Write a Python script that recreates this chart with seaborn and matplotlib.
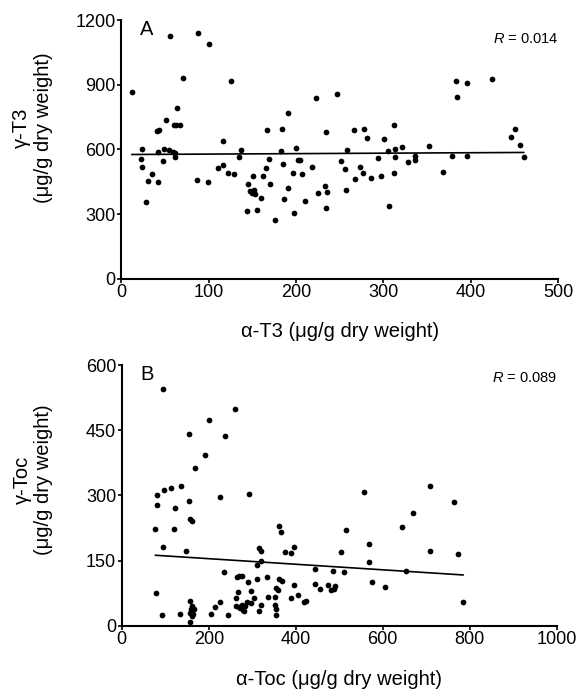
import numpy as np
import matplotlib
matplotlib.use("Agg")
import matplotlib.pyplot as plt
import seaborn as sns

# Panel A: alpha-T3 vs gamma-T3 (ug/g dry weight)
a_t3 = [12, 56, 88, 101, 71, 64, 51, 41, 43, 60, 63, 67, 24, 23, 24, 42, 49, 55, 59, 62,
        62, 48, 35, 31, 42, 28, 87, 99, 116, 111, 116, 122,
        126, 129, 137, 135, 145, 147, 150, 152, 153, 151, 160, 144, 156, 162, 166, 169, 167, 170,
        176, 184, 183, 185, 191, 191, 186, 197, 200, 202, 205, 198, 207, 210, 218, 223, 225, 233,
        236, 234, 235, 247, 252, 256, 258, 257, 267, 268, 273, 277, 278, 281, 286, 294, 297, 301,
        306, 307, 312, 312, 314, 314, 321, 328, 336, 336, 352, 368, 379, 383, 385, 396, 396, 425,
        446, 451, 456, 461]
g_t3 = [865, 1127, 1141, 1090, 930, 790, 737, 686, 691, 715, 715, 715, 603, 557, 518, 588, 601, 598, 590, 583,
        563, 544, 484, 455, 447, 358, 456, 449, 637, 512, 527, 489,
        918, 484, 598, 566, 438, 405, 397, 410, 395, 478, 376, 315, 321, 477, 514, 557, 688, 438,
        271, 696, 591, 532, 770, 420, 369, 490, 608, 549, 552, 307, 486, 359, 517, 838, 398, 429,
        401, 330, 682, 856, 544, 511, 598, 413, 689, 463, 517, 489, 696, 651, 466, 561, 475, 648,
        591, 336, 714, 490, 601, 563, 612, 543, 571, 549, 617, 497, 568, 915, 845, 907, 568, 927,
        656, 696, 622, 565]

# Panel B: alpha-Toc vs gamma-Toc (ug/g dry weight)
a_toc = [95, 80, 97, 113, 136, 82, 122, 77, 120, 94, 147, 79, 93, 133, 155, 168, 192, 200, 237, 155,
         156, 161, 226, 235, 158, 162, 160, 165, 158, 163, 157, 161, 225, 215, 206, 244,
         260, 293, 362, 365, 316, 321, 319, 311, 375, 388, 395, 515, 556, 503, 569, 569, 444, 486,
         511, 575, 606, 264, 270, 277, 312, 335, 362, 369, 290, 296, 267, 262, 303, 289, 298, 262,
         270, 272, 279, 283, 280, 277, 319, 316, 336, 352, 355, 359, 352, 355, 355, 388, 395, 405,
         418, 423, 445, 455, 473, 480, 489, 491,
         708, 763, 670, 644, 709, 773, 654, 785]
g_toc = [545, 302, 312, 316, 322, 278, 272, 222, 222, 181, 173, 75, 24, 27, 442, 364, 392, 473, 437, 287,
         245, 242, 296, 123, 58, 46, 38, 38, 29, 28, 9, 23, 54, 44, 28, 24,
         498, 303, 230, 215, 179, 171, 148, 139, 169, 167, 182, 221, 307, 169, 189, 147, 131, 126,
         123, 101, 90, 113, 114, 115, 107, 113, 108, 104, 100, 81, 77, 64, 63, 54, 52, 46,
         43, 40, 36, 45, 34, 48, 49, 33, 66, 67, 86, 82, 48, 38, 25, 63, 93, 71,
         54, 57, 97, 84, 95, 83, 84, 92,
         322, 286, 259, 228, 171, 166, 127, 54]

sns.set_style("ticks")
plt.rcParams['font.family'] = ['Liberation Sans', 'DejaVu Sans']
plt.rcParams['mathtext.fontset'] = 'custom'
plt.rcParams['mathtext.it'] = 'Liberation Sans:italic'
plt.rcParams['mathtext.rm'] = 'Liberation Sans'
plt.rcParams['text.color'] = 'black'
plt.rcParams['axes.labelcolor'] = 'black'

fig = plt.figure(figsize=(5.77, 6.90), dpi=100)
ax_a = fig.add_axes([0.21, 0.596, 0.757, 0.375])
ax_b = fig.add_axes([0.211, 0.093, 0.754, 0.378])

panels = [
    (ax_a, a_t3, g_t3, "A", "$R$ = 0.014", 0.925, 0.585,
     (0, 500, 100), (0, 1200, 300),
     "\u03b1-T3 (\u03bcg/g dry weight)", "\u03b3-T3\n(\u03bcg/g dry weight)"),
    (ax_b, a_toc, g_toc, "B", "$R$ = 0.089", 0.95, 0.56,
     (0, 1000, 200), (0, 600, 150),
     "\u03b1-Toc (\u03bcg/g dry weight)", "\u03b3-Toc\n(\u03bcg/g dry weight)"),
]

for ax, xs, ys, tag, rtxt, ry, ly, xr, yr, xlab, ylab in panels:
    sns.regplot(x=np.array(xs), y=np.array(ys), ax=ax, ci=None,
                scatter_kws=dict(s=17, color="black", linewidths=0, alpha=1),
                line_kws=dict(color="black", lw=1.2))
    ax.set_xlim(xr[0], xr[1])
    ax.set_ylim(yr[0], yr[1])
    ax.set_xticks(np.arange(xr[0], xr[1] + 1, xr[2]))
    ax.set_yticks(np.arange(yr[0], yr[1] + 1, yr[2]))
    sns.despine(ax=ax)
    for s in ["left", "bottom"]:
        ax.spines[s].set_linewidth(1.5)
        ax.spines[s].set_color("black")
    ax.tick_params(direction="out", length=3, width=1.2, labelsize=13, pad=1, colors="black")
    ax.set_xlabel(xlab, fontsize=14.5, va="top")
    ax.set_ylabel(ylab, fontsize=14.5, linespacing=1.15)
    ax.xaxis.set_label_coords(0.5, -0.168)
    ax.yaxis.set_label_coords(-0.157, ly)
    ax.text(0.042, 1.0, tag, transform=ax.transAxes, fontsize=14.5, va="top", ha="left")
    ax.text(1.0, ry, rtxt, transform=ax.transAxes, fontsize=10.5, va="center", ha="right")

fig.savefig("out.png", dpi=100, facecolor="white")
